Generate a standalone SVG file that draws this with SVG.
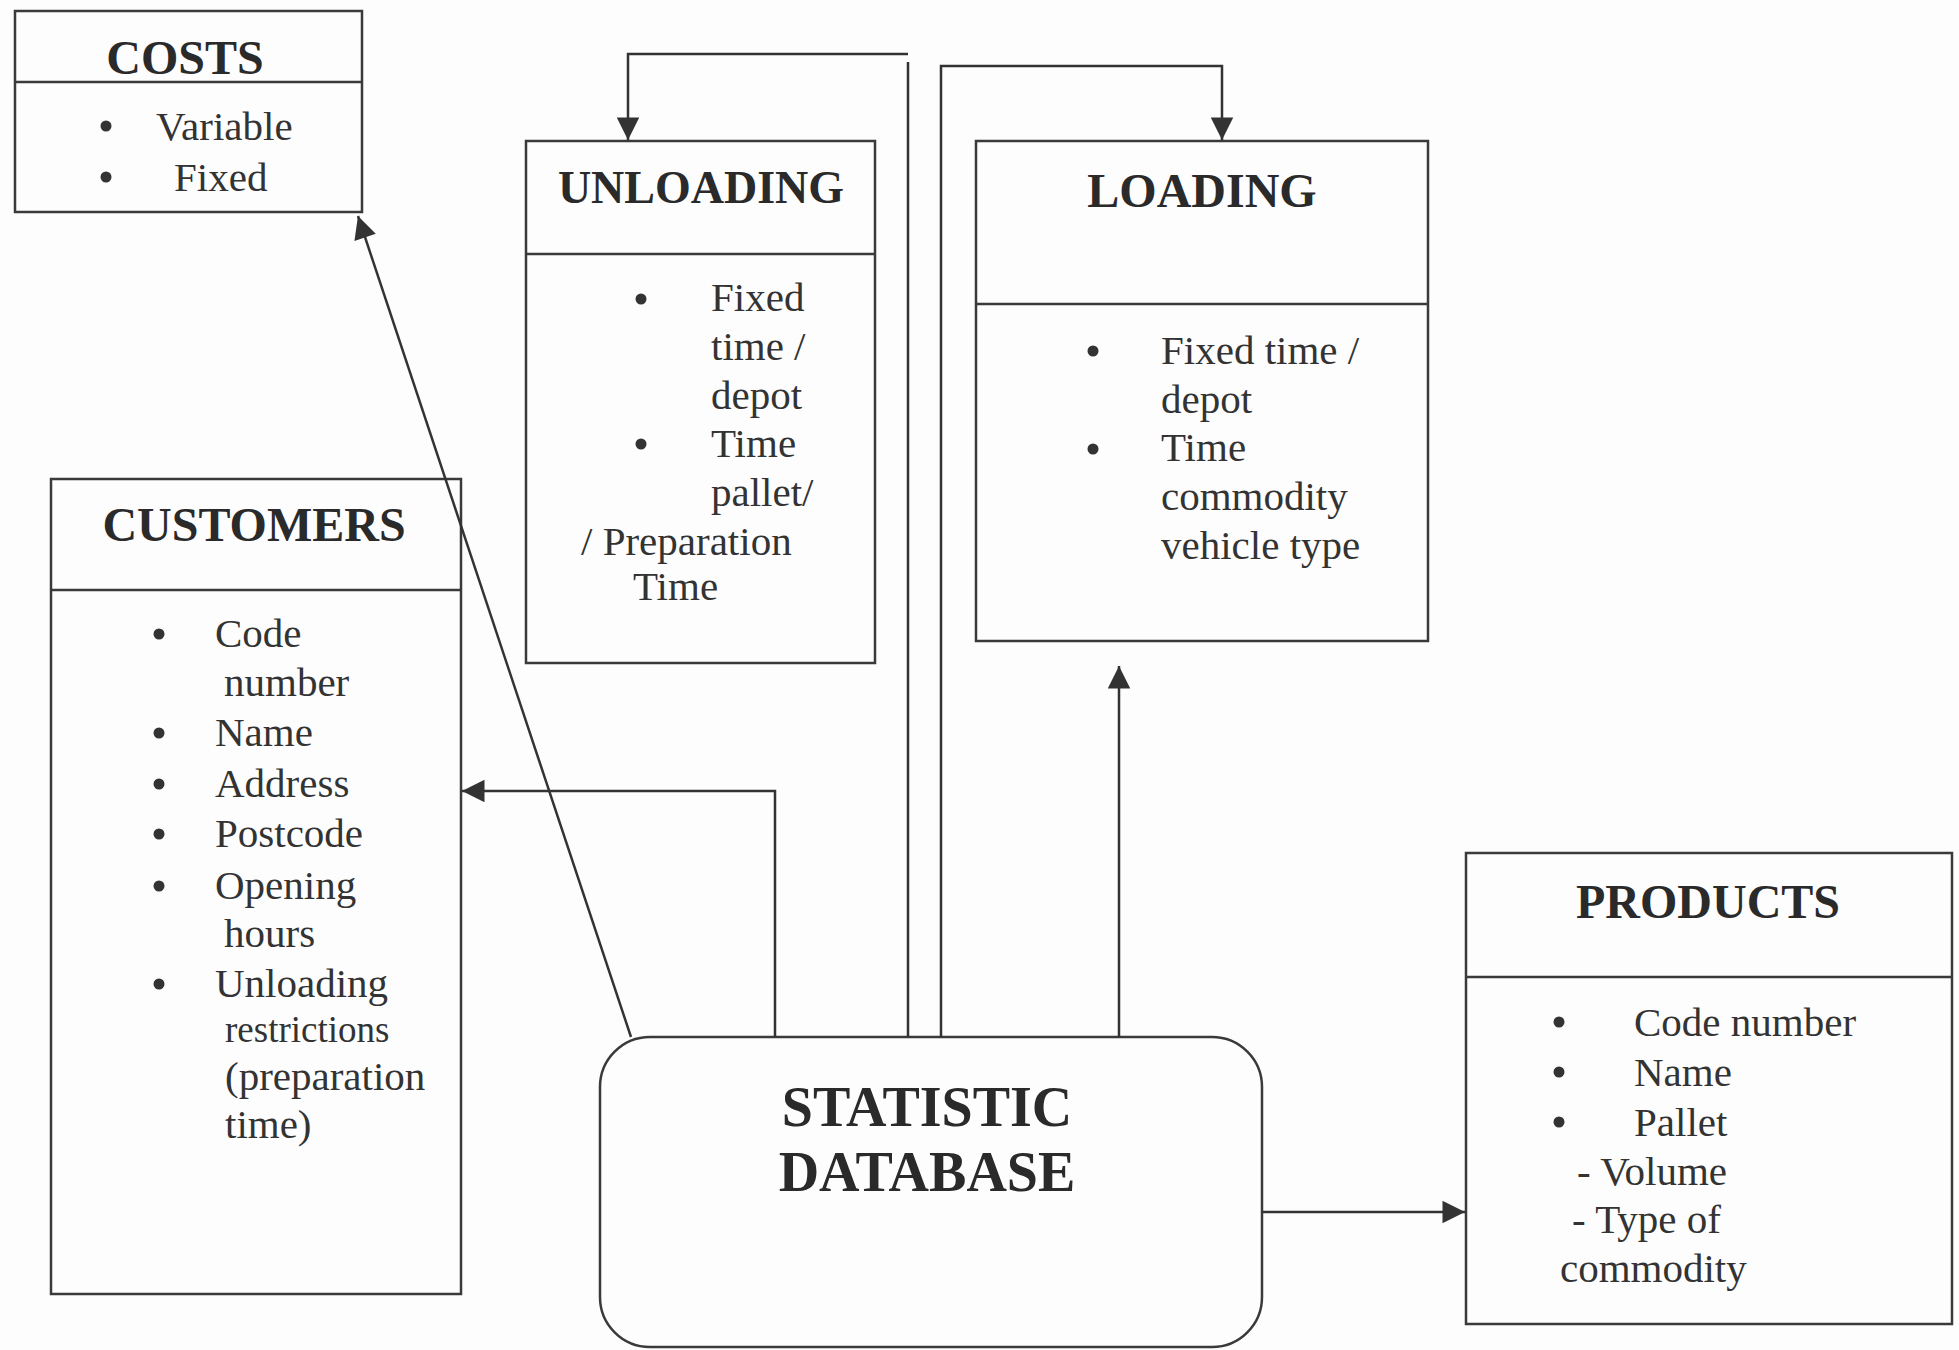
<svg xmlns="http://www.w3.org/2000/svg" width="1959" height="1350" viewBox="0 0 1959 1350">
<style>
.box{fill:none;stroke:#3a3a3a;stroke-width:2.5}
.div{stroke:#3a3a3a;stroke-width:2.5}
.title{font-family:"Liberation Serif","Times New Roman",serif;font-weight:bold;font-size:48px;fill:#2a2a2a;text-anchor:middle}
.t{font-family:"Liberation Serif","Times New Roman",serif;font-size:41px;fill:#333}
.b{fill:#333}
.con{fill:none;stroke:#333;stroke-width:2.5}
</style>
<defs>
<marker id="ah" viewBox="0 0 10 10" refX="10" refY="5" markerWidth="10" markerHeight="9" markerUnits="strokeWidth" orient="auto">
<path d="M0,0 L10,5 L0,10 Z" fill="#333"/>
</marker>
</defs>
<rect x="0" y="0" width="1959" height="1350" fill="#fdfdfd"/>

<g id="costs">
<rect class="box" x="15" y="11" width="347" height="201"/>
<line class="div" x1="15" y1="82" x2="362" y2="82"/>
<text class="title" x="185" y="74">COSTS</text>
<circle class="b" cx="106" cy="126" r="5.5"/>
<text class="t" x="156" y="140">Variable</text>
<circle class="b" cx="106" cy="177" r="5.5"/>
<text class="t" x="174" y="191">Fixed</text>
</g>

<g id="unloading">
<rect class="box" x="526" y="141" width="349" height="522"/>
<line class="div" x1="526" y1="254" x2="875" y2="254"/>
<text class="title" x="701" y="203" style="font-size:46px">UNLOADING</text>
<circle class="b" cx="641" cy="299" r="5.5"/>
<text class="t" x="711" y="311">Fixed</text>
<text class="t" x="711" y="360">time /</text>
<text class="t" x="711" y="409">depot</text>
<circle class="b" cx="641" cy="444" r="5.5"/>
<text class="t" x="711" y="457">Time</text>
<text class="t" x="711" y="506">pallet/</text>
<text class="t" x="581" y="555">/ Preparation</text>
<text class="t" x="633" y="600">Time</text>
</g>

<g id="loading">
<rect class="box" x="976" y="141" width="452" height="500"/>
<line class="div" x1="976" y1="304" x2="1428" y2="304"/>
<text class="title" x="1202" y="207">LOADING</text>
<circle class="b" cx="1093" cy="351" r="5.5"/>
<text class="t" x="1161" y="364">Fixed time /</text>
<text class="t" x="1161" y="413">depot</text>
<circle class="b" cx="1093" cy="449" r="5.5"/>
<text class="t" x="1161" y="461">Time</text>
<text class="t" x="1161" y="510">commodity</text>
<text class="t" x="1161" y="559">vehicle type</text>
</g>

<g id="customers">
<rect class="box" x="51" y="479" width="410" height="815"/>
<line class="div" x1="51" y1="590" x2="461" y2="590"/>
<text class="title" x="254" y="541">CUSTOMERS</text>
<circle class="b" cx="159" cy="634" r="5.5"/>
<text class="t" x="215" y="647">Code</text>
<text class="t" x="224" y="696">number</text>
<circle class="b" cx="159" cy="733" r="5.5"/>
<text class="t" x="215" y="746">Name</text>
<circle class="b" cx="159" cy="784" r="5.5"/>
<text class="t" x="215" y="797">Address</text>
<circle class="b" cx="159" cy="834" r="5.5"/>
<text class="t" x="215" y="847">Postcode</text>
<circle class="b" cx="159" cy="886" r="5.5"/>
<text class="t" x="215" y="899">Opening</text>
<text class="t" x="224" y="947">hours</text>
<circle class="b" cx="159" cy="984" r="5.5"/>
<text class="t" x="215" y="997">Unloading</text>
<text class="t" x="225" y="1042" style="font-size:37px">restrictions</text>
<text class="t" x="225" y="1090">(preparation</text>
<text class="t" x="225" y="1138">time)</text>
</g>

<g id="products">
<rect class="box" x="1466" y="853" width="486" height="471"/>
<line class="div" x1="1466" y1="977" x2="1952" y2="977"/>
<text class="title" x="1708" y="918">PRODUCTS</text>
<circle class="b" cx="1559" cy="1022" r="5.5"/>
<text class="t" x="1634" y="1036">Code number</text>
<circle class="b" cx="1559" cy="1072" r="5.5"/>
<text class="t" x="1634" y="1086">Name</text>
<circle class="b" cx="1559" cy="1122" r="5.5"/>
<text class="t" x="1634" y="1136">Pallet</text>
<text class="t" x="1577" y="1185">- Volume</text>
<text class="t" x="1572" y="1233">- Type of</text>
<text class="t" x="1560" y="1282">commodity</text>
</g>

<g id="statistic-database">
<rect class="box" x="600" y="1037" width="662" height="310" rx="50" ry="50"/>
<text class="title" x="927" y="1126" style="font-size:56px">STATISTIC</text>
<text class="title" x="927" y="1191" style="font-size:56px">DATABASE</text>
</g>

<g id="connectors">
<line class="con" x1="631" y1="1037" x2="358" y2="216" marker-end="url(#ah)"/>
<polyline class="con" points="775,1037 775,791 462,791" marker-end="url(#ah)"/>
<polyline class="con" points="908,1037 908,62"/>
<polyline class="con" points="908,54 628,54 628,140" marker-end="url(#ah)"/>
<polyline class="con" points="941,1037 941,66 1222,66 1222,140" marker-end="url(#ah)"/>
<line class="con" x1="1119" y1="1037" x2="1119" y2="666" marker-end="url(#ah)"/>
<line class="con" x1="1262" y1="1212" x2="1465" y2="1212" marker-end="url(#ah)"/>
</g>
</svg>
